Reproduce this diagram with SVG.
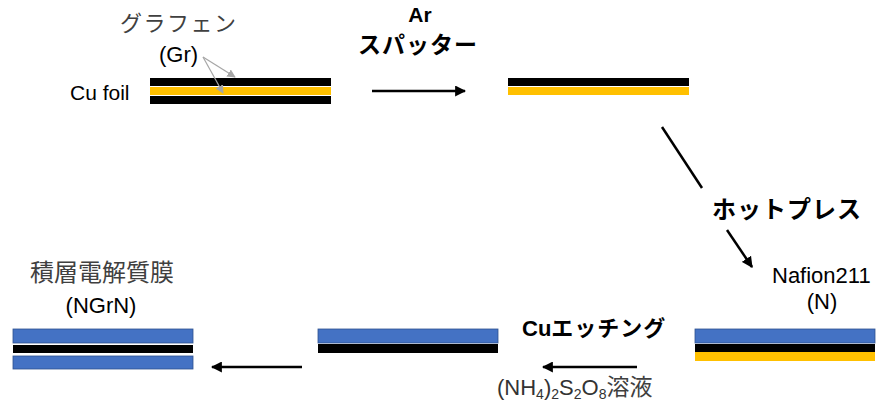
<svg xmlns="http://www.w3.org/2000/svg" width="878" height="408" viewBox="0 0 878 408">
<defs>
<style>
.lat{font-family:"Liberation Sans","Noto Sans CJK JP",sans-serif;fill:#000}
.gl{font-family:"Liberation Sans","Noto Sans CJK JP",sans-serif;fill:#333}
.jp{font-family:"Noto Sans CJK JP",sans-serif;fill:#404040}
.jpb{font-family:"Noto Sans CJK JP",sans-serif;font-weight:bold;fill:#000}
.blk{fill:#000}
.yel{fill:#FFC000}
.blu{fill:#4472C4;stroke:#2F528F;stroke-width:0.8}
.arr{stroke:#000;stroke-width:2.5;fill:none;marker-end:url(#ah)}
.garr{stroke:#A6A6A6;stroke-width:1.2;fill:none;marker-end:url(#gh)}
</style>
<marker id="ah" viewBox="0 0 10 10" refX="9" refY="5" markerWidth="4.4" markerHeight="4.4" orient="auto" markerUnits="strokeWidth">
<path d="M0,0 L10,5 L0,10 z" fill="#000"/>
</marker>
<marker id="gh" viewBox="0 0 10 10" refX="9" refY="5" markerWidth="7" markerHeight="7" orient="auto" markerUnits="strokeWidth">
<path d="M0,0 L10,5 L0,10 z" fill="#A6A6A6"/>
</marker>
</defs>

<g id="cu-foil">
<rect class="blk" x="150" y="78" width="181" height="8"/>
<rect class="yel" x="150" y="87" width="181" height="8"/>
<rect class="blk" x="150" y="96" width="181" height="8"/>
<text class="lat" x="70" y="100" font-size="21">Cu foil</text>
<text class="jp" x="120" y="31" font-size="22" letter-spacing="1.5">グラフェン</text>
<text class="lat" x="159" y="62" font-size="22">(Gr)</text>
</g>

<g id="sputtered">
<rect class="blk" x="508" y="78" width="181" height="8"/>
<rect class="yel" x="508" y="87" width="181" height="8"/>
</g>

<g id="hotpressed">
<rect class="blu" x="695" y="329" width="180" height="14"/>
<rect class="blk" x="695" y="344" width="180" height="8"/>
<rect class="yel" x="695" y="352" width="180" height="9"/>
<text class="lat" x="772" y="283" font-size="22">Nafion211</text>
<text class="lat" x="822" y="309" font-size="22" text-anchor="middle">(N)</text>
</g>

<g id="etched">
<rect class="blu" x="318" y="329" width="180" height="14"/>
<rect class="blk" x="318" y="344" width="180" height="9"/>
</g>

<g id="ngrn">
<rect class="blu" x="13" y="329" width="180" height="14"/>
<rect class="blk" x="13" y="345" width="180" height="8"/>
<rect class="blu" x="13" y="356" width="180" height="13"/>
<text class="jp" x="30" y="281" font-size="24">積層電解質膜</text>
<text class="lat" x="101" y="313" font-size="22" text-anchor="middle">(NGrN)</text>
</g>

<g id="labels">
<text class="lat" x="420" y="22" font-size="21" font-weight="bold" text-anchor="middle">Ar</text>
<text class="jpb" x="418" y="53" font-size="23" letter-spacing="1" text-anchor="middle">スパッター</text>
<text class="jpb" x="712" y="218" font-size="24" letter-spacing="1">ホットプレス</text>
<text x="522" y="336" font-size="22"><tspan class="lat" font-weight="bold">Cu</tspan><tspan class="jpb" letter-spacing="1">エッチング</tspan></text>
<text x="497" y="395" font-size="22"><tspan class="gl">(NH</tspan><tspan class="gl" font-size="14" dy="4">4</tspan><tspan class="gl" dy="-4">)</tspan><tspan class="gl" font-size="14" dy="4">2</tspan><tspan class="gl" dy="-4">S</tspan><tspan class="gl" font-size="14" dy="4">2</tspan><tspan class="gl" dy="-4">O</tspan><tspan class="gl" font-size="14" dy="4">8</tspan><tspan class="jp" font-size="23" dy="-4">溶液</tspan></text>
</g>

<g id="connectors">
<line class="arr" x1="372" y1="91" x2="465" y2="91"/>
<line x1="662" y1="127" x2="702" y2="188" stroke="#000" stroke-width="2.5"/>
<line class="arr" x1="727" y1="230" x2="752" y2="267"/>
<line class="arr" x1="637" y1="367" x2="543" y2="367"/>
<line class="arr" x1="302" y1="367" x2="212" y2="367"/>
<line class="garr" x1="203" y1="57" x2="235" y2="77"/>
<line class="garr" x1="203" y1="57" x2="223" y2="93"/>
</g>
</svg>
